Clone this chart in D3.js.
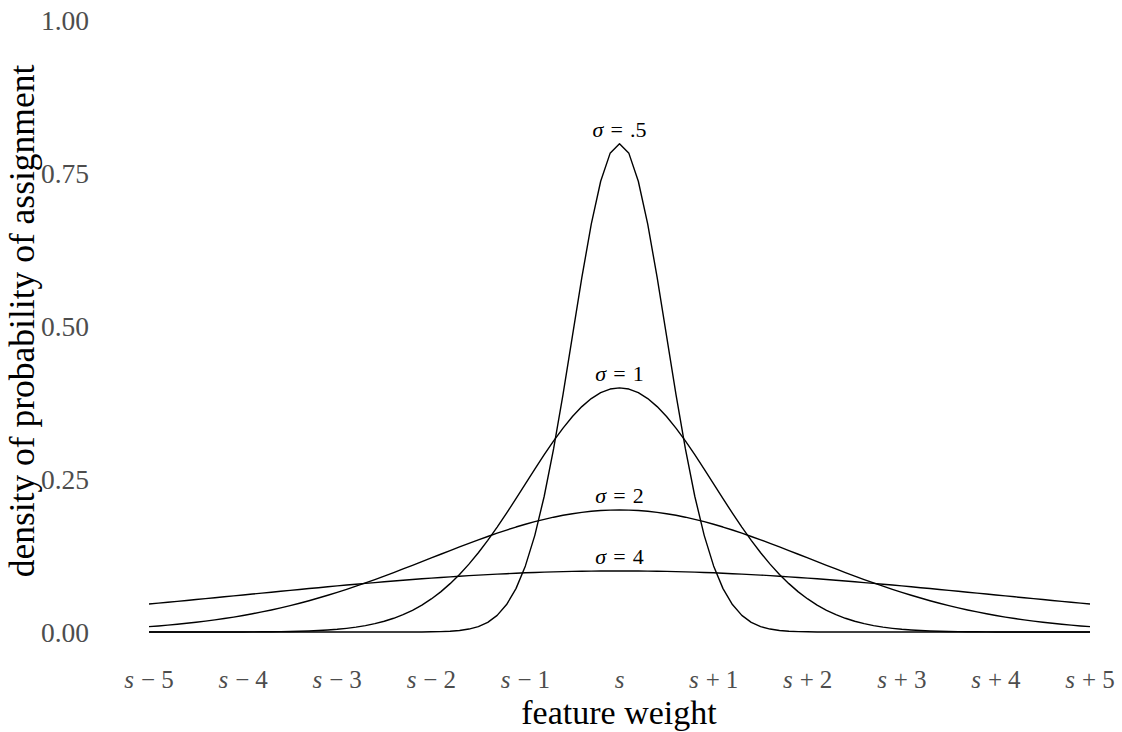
<!DOCTYPE html>
<html>
<head>
<meta charset="utf-8">
<script src="https://cdn.jsdelivr.net/npm/d3@7"></script>
<style>
  html, body { margin: 0; padding: 0; background: #ffffff; }
  svg { display: block; }
  text { font-family: "Liberation Serif", "DejaVu Serif", serif; }
</style>
</head>
<body>
<svg id="chart" width="1122" height="732"></svg>
<script>
// Feature-weight grid (offset from s), sampled every 0.1
const weights = [
  -5.0, -4.9, -4.8, -4.7, -4.6, -4.5, -4.4, -4.3, -4.2, -4.1,
  -4.0, -3.9, -3.8, -3.7, -3.6, -3.5, -3.4, -3.3, -3.2, -3.1,
  -3.0, -2.9, -2.8, -2.7, -2.6, -2.5, -2.4, -2.3, -2.2, -2.1,
  -2.0, -1.9, -1.8, -1.7, -1.6, -1.5, -1.4, -1.3, -1.2, -1.1,
  -1.0, -0.9, -0.8, -0.7, -0.6, -0.5, -0.4, -0.3, -0.2, -0.1,
  0.0,
  0.1, 0.2, 0.3, 0.4, 0.5, 0.6, 0.7, 0.8, 0.9, 1.0,
  1.1, 1.2, 1.3, 1.4, 1.5, 1.6, 1.7, 1.8, 1.9, 2.0,
  2.1, 2.2, 2.3, 2.4, 2.5, 2.6, 2.7, 2.8, 2.9, 3.0,
  3.1, 3.2, 3.3, 3.4, 3.5, 3.6, 3.7, 3.8, 3.9, 4.0,
  4.1, 4.2, 4.3, 4.4, 4.5, 4.6, 4.7, 4.8, 4.9, 5.0
];

// Density of assignment probability for each spread
const densitySigmaHalf = [
  0, 0, 0, 0, 0, 0, 0, 0, 0, 0,
  0, 0, 0, 0, 0, 0, 0, 0, 0, 0,
  0, 0, 0, 0, 0, 0, 0, 0, 0.0001, 0.0001,
  0.0003, 0.0006, 0.0012, 0.0025, 0.0048, 0.0089, 0.0158, 0.0272, 0.0448, 0.0709,
  0.1080, 0.1579, 0.2218, 0.2995, 0.3884, 0.4839, 0.5794, 0.6664, 0.7365, 0.7821,
  0.7979,
  0.7821, 0.7365, 0.6664, 0.5794, 0.4839, 0.3884, 0.2995, 0.2218, 0.1579, 0.1080,
  0.0709, 0.0448, 0.0272, 0.0158, 0.0089, 0.0048, 0.0025, 0.0012, 0.0006, 0.0003,
  0.0001, 0.0001, 0, 0, 0, 0, 0, 0, 0, 0,
  0, 0, 0, 0, 0, 0, 0, 0, 0, 0,
  0, 0, 0, 0, 0, 0, 0, 0, 0, 0
];

const densitySigma1 = [
  0, 0, 0, 0, 0, 0, 0, 0, 0.0001, 0.0001,
  0.0001, 0.0002, 0.0003, 0.0004, 0.0006, 0.0009, 0.0012, 0.0017, 0.0024, 0.0033,
  0.0044, 0.0060, 0.0079, 0.0104, 0.0136, 0.0175, 0.0224, 0.0283, 0.0355, 0.0440,
  0.0540, 0.0656, 0.0790, 0.0940, 0.1109, 0.1295, 0.1497, 0.1714, 0.1942, 0.2179,
  0.2420, 0.2661, 0.2897, 0.3123, 0.3332, 0.3521, 0.3683, 0.3814, 0.3910, 0.3970,
  0.3989,
  0.3970, 0.3910, 0.3814, 0.3683, 0.3521, 0.3332, 0.3123, 0.2897, 0.2661, 0.2420,
  0.2179, 0.1942, 0.1714, 0.1497, 0.1295, 0.1109, 0.0940, 0.0790, 0.0656, 0.0540,
  0.0440, 0.0355, 0.0283, 0.0224, 0.0175, 0.0136, 0.0104, 0.0079, 0.0060, 0.0044,
  0.0033, 0.0024, 0.0017, 0.0012, 0.0009, 0.0006, 0.0004, 0.0003, 0.0002, 0.0001,
  0.0001, 0.0001, 0, 0, 0, 0, 0, 0, 0, 0
];

const densitySigma2 = [
  0.0088, 0.0099, 0.0112, 0.0126, 0.0142, 0.0159, 0.0177, 0.0198, 0.0220, 0.0244,
  0.0270, 0.0298, 0.0328, 0.0360, 0.0395, 0.0431, 0.0470, 0.0511, 0.0555, 0.0600,
  0.0648, 0.0697, 0.0749, 0.0802, 0.0857, 0.0913, 0.0971, 0.1030, 0.1089, 0.1149,
  0.1210, 0.1270, 0.1330, 0.1390, 0.1448, 0.1506, 0.1561, 0.1615, 0.1666, 0.1715,
  0.1760, 0.1803, 0.1841, 0.1876, 0.1907, 0.1933, 0.1955, 0.1972, 0.1985, 0.1992,
  0.1995,
  0.1992, 0.1985, 0.1972, 0.1955, 0.1933, 0.1907, 0.1876, 0.1841, 0.1803, 0.1760,
  0.1715, 0.1666, 0.1615, 0.1561, 0.1506, 0.1448, 0.1390, 0.1330, 0.1270, 0.1210,
  0.1149, 0.1089, 0.1030, 0.0971, 0.0913, 0.0857, 0.0802, 0.0749, 0.0697, 0.0648,
  0.0600, 0.0555, 0.0511, 0.0470, 0.0431, 0.0395, 0.0360, 0.0328, 0.0298, 0.0270,
  0.0244, 0.0220, 0.0198, 0.0177, 0.0159, 0.0142, 0.0126, 0.0112, 0.0099, 0.0088
];

const densitySigma4 = [
  0.0457, 0.0471, 0.0485, 0.0500, 0.0515, 0.0530, 0.0545, 0.0560, 0.0575, 0.0590,
  0.0605, 0.0620, 0.0635, 0.0650, 0.0665, 0.0680, 0.0695, 0.0710, 0.0724, 0.0739,
  0.0753, 0.0767, 0.0781, 0.0794, 0.0807, 0.0820, 0.0833, 0.0845, 0.0857, 0.0869,
  0.0880, 0.0891, 0.0901, 0.0911, 0.0921, 0.0930, 0.0938, 0.0946, 0.0953, 0.0960,
  0.0967, 0.0972, 0.0978, 0.0982, 0.0986, 0.0990, 0.0992, 0.0995, 0.0996, 0.0997,
  0.0997,
  0.0997, 0.0996, 0.0995, 0.0992, 0.0990, 0.0986, 0.0982, 0.0978, 0.0972, 0.0967,
  0.0960, 0.0953, 0.0946, 0.0938, 0.0930, 0.0921, 0.0911, 0.0901, 0.0891, 0.0880,
  0.0869, 0.0857, 0.0845, 0.0833, 0.0820, 0.0807, 0.0794, 0.0781, 0.0767, 0.0753,
  0.0739, 0.0724, 0.0710, 0.0695, 0.0680, 0.0665, 0.0650, 0.0635, 0.0620, 0.0605,
  0.0590, 0.0575, 0.0560, 0.0545, 0.0530, 0.0515, 0.0500, 0.0485, 0.0471, 0.0457
];

const seriesLabels = [".5", "1", "2", "4"];
const seriesValues = [densitySigmaHalf, densitySigma1, densitySigma2, densitySigma4];

// Axis ticks
const xTickOffsets = [-5, -4, -3, -2, -1, 0, 1, 2, 3, 4, 5];
const yTickValues = [0, 0.25, 0.5, 0.75, 1];
const yTickLabels = ["0.00", "0.25", "0.50", "0.75", "1.00"];

const xTitle = "feature weight";
const yTitle = "density of probability of assignment";

// ---- drawing ----
const svg = d3.select("#chart");

const x = d3.scaleLinear().domain([-5, 5]).range([149, 1090]);
const y = d3.scaleLinear().domain([0, 1]).range([632, 20]);

const line = d3.line()
  .x((d, i) => x(weights[i]))
  .y(d => y(d));

const curves = svg.append("g");
seriesValues.forEach(vals => {
  curves.append("path")
    .datum(vals)
    .attr("d", line)
    .attr("fill", "none")
    .attr("stroke", "#000")
    .attr("stroke-width", 1.4)
    .attr("stroke-linejoin", "round");
});

// σ labels above each peak
const labels = svg.append("g").attr("font-size", 22).attr("fill", "#000");
seriesValues.forEach((vals, k) => {
  const peak = d3.max(vals);
  const t = labels.append("text")
    .attr("x", x(0))
    .attr("y", y(peak) - 6.5)
    .attr("text-anchor", "middle");
  t.append("tspan").attr("font-style", "italic").text("σ");
  t.append("tspan").attr("dx", 7).text("=");
  t.append("tspan").attr("dx", 7).text(seriesLabels[k]);
});

// y axis (no line, no tick marks)
const yAxis = d3.axisLeft(y)
  .tickValues(yTickValues)
  .tickFormat((d, i) => yTickLabels[i])
  .tickSize(0)
  .tickPadding(60);
const gy = svg.append("g").attr("transform", `translate(${x(-5)},0)`).call(yAxis);
gy.select(".domain").remove();
gy.selectAll("text")
  .attr("font-family", "Liberation Serif, serif")
  .attr("font-size", 27.5)
  .attr("fill", "#4d4d4d")
  .attr("dy", "0.34em");

// x axis labels: s, s − k, s + k
const gx = svg.append("g")
  .attr("font-size", 25)
  .attr("fill", "#4d4d4d");
xTickOffsets.forEach(k => {
  const t = gx.append("text")
    .attr("x", x(k))
    .attr("y", 687.5)
    .attr("text-anchor", "middle");
  t.append("tspan").attr("font-style", "italic").text("s");
  if (k !== 0) {
    t.append("tspan").attr("dx", 7).text(k < 0 ? "\u2212" : "+");
    t.append("tspan").attr("dx", 6).text(Math.abs(k));
  }
});

// axis titles
svg.append("text")
  .attr("x", 619)
  .attr("y", 724)
  .attr("text-anchor", "middle")
  .attr("font-size", 34)
  .attr("fill", "#000")
  .text(xTitle);

svg.append("text")
  .attr("transform", "translate(34,321) rotate(-90)")
  .attr("text-anchor", "middle")
  .attr("font-size", 35.5)
  .attr("fill", "#000")
  .text(yTitle);
</script>
</body>
</html>
